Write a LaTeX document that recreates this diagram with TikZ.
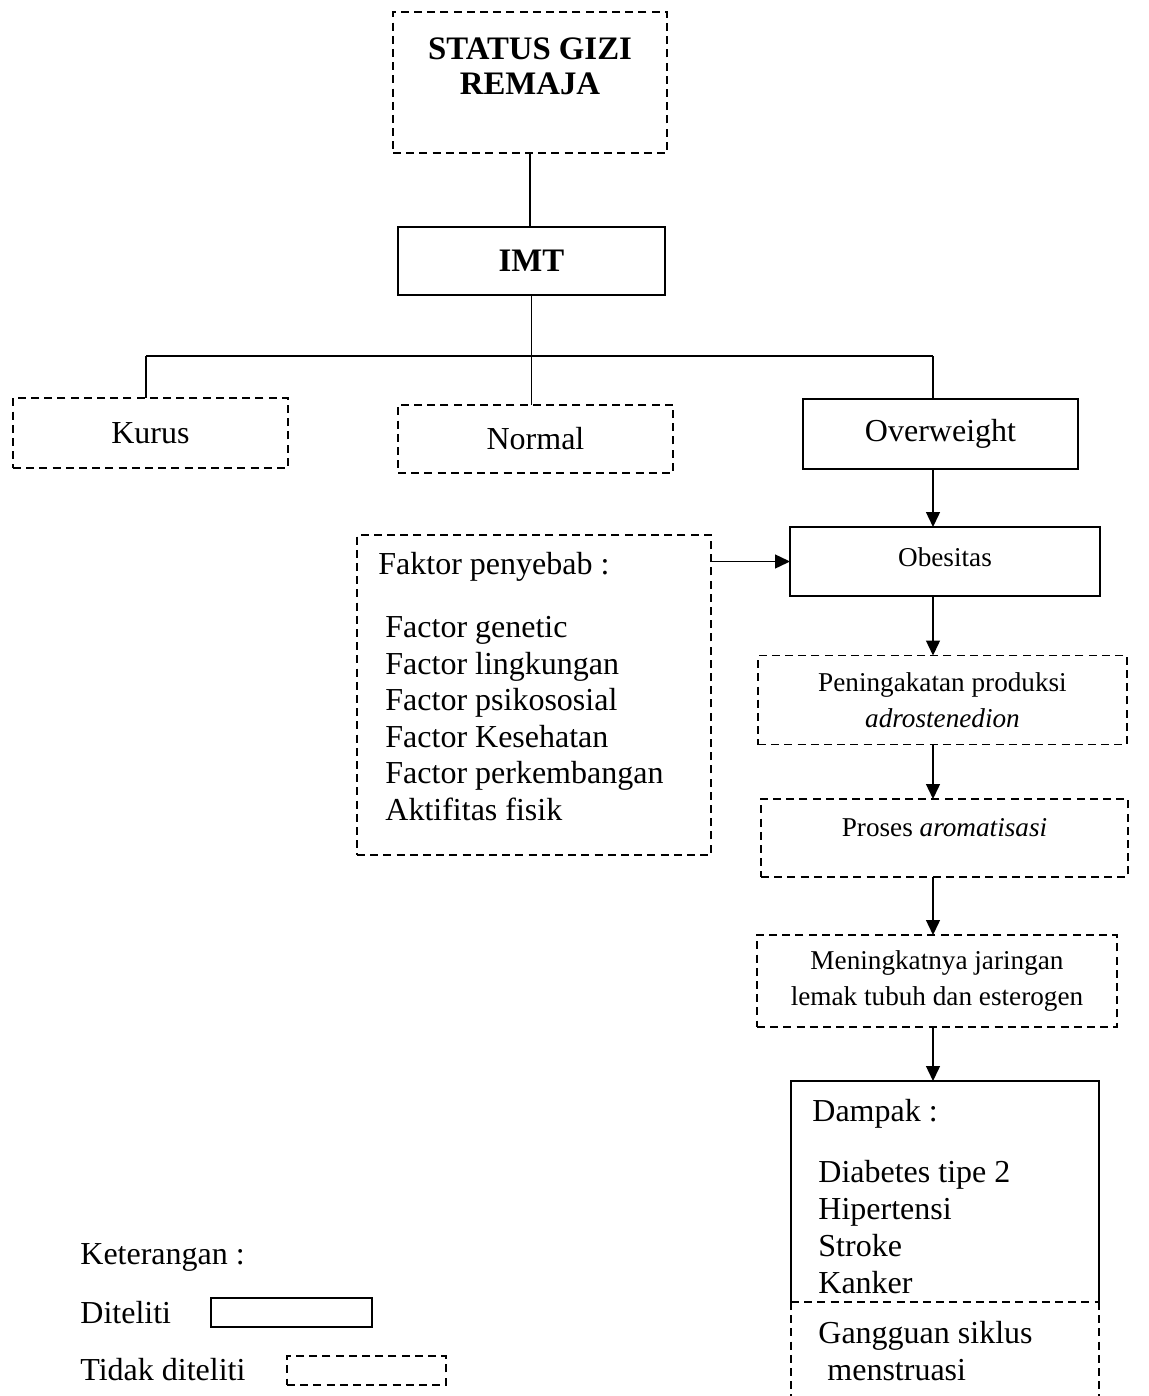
\documentclass[tikz,border=0pt]{standalone}
\usepackage{fontspec}
\setmainfont{Liberation Serif}
\usetikzlibrary{arrows.meta}
\begin{document}
\begin{tikzpicture}[x=0.5pt,y=-0.5pt,
  box/.style={draw, line width=0.9pt, outer sep=0pt, inner sep=0pt},
  dbox/.style={box, dash pattern=on 4pt off 2.6pt},
  conn/.style={line width=0.7pt},
  arr/.style={conn, -{Triangle[length=7.5pt,width=7pt]}},
  maintxt/.style={font=\fontsize{16}{18.5}\selectfont, inner sep=0pt},
  smalltxt/.style={font=\fontsize{13.6}{18}\selectfont, inner sep=0pt},
  titletxt/.style={font=\fontsize{16.4}{17.5}\selectfont\bfseries, inner sep=0pt}]
\useasboundingbox (0,0) rectangle (1149,1396);
\coordinate (colx) at (933,0);
% top
\node[dbox, minimum width=137pt, minimum height=70.5pt] (status) at (530,82.5) {};
\node[titletxt, align=center] (statustxt) at (530,66) {STATUS GIZI\\REMAJA};
\node[box, minimum width=133.5pt, minimum height=34pt, titletxt] (imt) at (531.5,261) {IMT};
% level 2
\node[dbox, minimum width=137.5pt, minimum height=35pt, maintxt] (kurus) at (150.5,433) {Kurus};
\node[dbox, minimum width=137.5pt, minimum height=34pt, maintxt] (normal) at (535.5,439) {Normal};
\node[box, minimum width=137.5pt, minimum height=35pt, maintxt] (over) at (940.5,434) {Overweight};
\coordinate (hl) at (146,356);
\coordinate (hr) at (933,356);
\draw[conn] (status.south) -- (status.south |- imt.north);
\draw[conn] (imt.south) -- (imt.south |- normal.north);
\draw[conn] (hl) -- (hr);
\draw[conn] (hl) -- (hl |- kurus.north);
\draw[conn] (hr) -- (hr |- over.north);
% chain
\node[box, minimum width=155pt, minimum height=34.5pt] (obes) at (945,561.5) {};
\node[smalltxt] (obestxt) at (945,557) {Obesitas};
\node[dbox, minimum width=177pt, minimum height=160pt] (faktor) at (534,695) {};
\node[maintxt, anchor=west] (faktorhead) at (378,567) {Faktor penyebab :};
\node[maintxt, anchor=west, align=left, font=\fontsize{16}{18.3}\selectfont] (faktorlist) at (385,718.5) {Factor genetic\\Factor lingkungan\\Factor psikososial\\Factor Kesehatan\\Factor perkembangan\\Aktifitas fisik};
\node[dbox, minimum width=184.5pt, minimum height=44.5pt, smalltxt, align=center] (pen) at (942.5,700) {Peningakatan produksi\\\itshape adrostenedion};
\node[dbox, minimum width=183.5pt, minimum height=39pt] (proses) at (944.5,838) {};
\node[smalltxt] (prosestxt) at (944.5,828) {Proses \textit{aromatisasi}};
\node[dbox, minimum width=180pt, minimum height=46pt, smalltxt, align=center] (men) at (937,981) {Meningkatnya jaringan\\lemak tubuh dan esterogen};
\draw[arr] (over.south -| colx) -- (obes.north -| colx);
\draw[arr] (faktor.east |- obes.west) -- (obes.west);
\draw[arr] (obes.south -| colx) -- (pen.north -| colx);
\draw[arr] (pen.south -| colx) -- (proses.north -| colx);
\draw[arr] (proses.south -| colx) -- (men.north -| colx);
% dampak
\node[minimum width=154pt, minimum height=110.5pt, outer sep=0pt, inner sep=0pt] (dampak) at (945,1191.5) {};
\draw[line width=0.9pt] (dampak.south west) -- (dampak.north west) -- (dampak.north east) -- (dampak.south east);
\coordinate (dbl) at (791,1396);
\coordinate (dbr) at (1099,1396);
\draw[line width=0.9pt, dash pattern=on 4pt off 2.6pt] (dampak.south west) -- (dampak.south east);
\draw[line width=0.9pt, dash pattern=on 4pt off 2.6pt] (dampak.south west) -- (dbl);
\draw[line width=0.9pt, dash pattern=on 4pt off 2.6pt] (dampak.south east) -- (dbr);
\draw[arr] (men.south -| colx) -- (dampak.north -| colx);
\node[maintxt, anchor=west] (dhead) at (812,1114) {Dampak :};
\node[maintxt, anchor=west, align=left] (dlist) at (818,1227.5) {Diabetes tipe 2\\Hipertensi\\Stroke\\Kanker};
\node[maintxt, anchor=west, align=left] (dgang) at (818,1351.5) {Gangguan siklus\\\hspace*{4.5pt}menstruasi};
% legend
\node[maintxt, anchor=west] (ket) at (80,1257) {Keterangan :};
\node[maintxt, anchor=west] (dit) at (80,1313) {Diteliti};
\node[maintxt, anchor=west] (tdit) at (80,1370) {Tidak diteliti};
\node[box, minimum width=80.5pt, minimum height=14.5pt] (legs) at (291.5,1312.5) {};
\node[dbox, minimum width=79.5pt, minimum height=14.5pt] (legd) at (366.5,1370.5) {};
\end{tikzpicture}
\end{document}
